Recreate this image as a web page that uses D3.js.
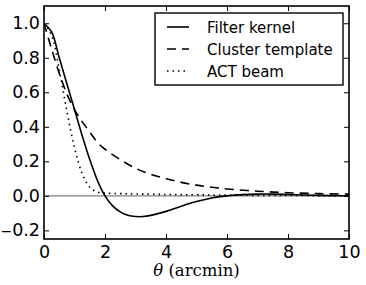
<!DOCTYPE html>
<html>
<head>
<meta charset="utf-8">
<script src="https://cdn.jsdelivr.net/npm/d3@7"></script>
<style>
  body { margin: 0; background: #fff; }
  text { font-family: "DejaVu Sans", sans-serif; }
</style>
</head>
<body>
<div id="chart"></div>
<script>
// values
var filterX = [0, 0.25, 0.5, 0.75, 1.0, 1.25, 1.5, 1.75, 2.0, 2.25, 2.5, 2.75, 3.0, 3.25, 3.5, 4.0, 4.5, 5.0, 5.5, 6.0, 6.5, 7.0, 7.5, 8.0, 8.5, 9.0, 9.5, 10];
var filterY = [1.0, 0.95, 0.8, 0.65, 0.5, 0.35, 0.21, 0.09, 0.0, -0.058, -0.093, -0.113, -0.12, -0.12, -0.113, -0.09, -0.06, -0.033, -0.012, 0.0, 0.007, 0.01, 0.01, 0.008, 0.005, 0.003, 0.001, 0];

var clusterX = [0, 0.25, 0.5, 0.75, 1.0, 1.25, 1.5, 1.75, 2.0, 2.5, 3.0, 3.5, 4.0, 4.5, 5.0, 5.5, 6.0, 7.0, 8.0, 9.0, 10];
var clusterY = [1.0, 0.85, 0.71, 0.59, 0.5, 0.43, 0.37, 0.31, 0.27, 0.21, 0.16, 0.125, 0.1, 0.078, 0.062, 0.05, 0.04, 0.027, 0.018, 0.013, 0.01];

var beamX = [0, 0.25, 0.5, 0.75, 1.0, 1.25, 1.5, 1.75, 2.0, 2.5, 3.0, 4.0, 5.0, 6.0, 8.0, 10];
var beamY = [1.0, 0.93, 0.73, 0.49, 0.28, 0.13, 0.05, 0.022, 0.016, 0.013, 0.011, 0.008, 0.006, 0.004, 0.002, 0.001];

var xTicks = [0, 2, 4, 6, 8, 10];
var yTicks = [-0.2, 0.0, 0.2, 0.4, 0.6, 0.8, 1.0];
var legendLabels = ["Filter kernel", "Cluster template", "ACT beam"];

var width = 366, height = 285;
var margin = {left: 44, right: 17, top: 6, bottom: 46};

var svg = d3.select("#chart").append("svg")
  .attr("width", width).attr("height", height);

var x = d3.scaleLinear().domain([0, 10]).range([margin.left, width - margin.right]);
var y = d3.scaleLinear().domain([-0.25, 1.1]).range([height - margin.bottom, margin.top]);

// zero line
svg.append("line")
  .attr("x1", x(0)).attr("x2", x(10))
  .attr("y1", y(0)).attr("y2", y(0))
  .attr("stroke", "#808080").attr("stroke-width", 1.2);

var line = d3.line()
  .x(function(d) { return x(d[0]); })
  .y(function(d) { return y(d[1]); })
  .curve(d3.curveCatmullRom.alpha(0.5));

var series = [
  {pts: d3.zip(filterX, filterY), dash: null},
  {pts: d3.zip(clusterX, clusterY), dash: "9,6"},
  {pts: d3.zip(beamX, beamY), dash: "1.5,4"}
];

svg.append("clipPath").attr("id", "clip").append("rect")
  .attr("x", x(0)).attr("y", y(1.1))
  .attr("width", x(10) - x(0)).attr("height", y(-0.25) - y(1.1));

svg.append("g").attr("clip-path", "url(#clip)")
  .selectAll("path")
  .data(series)
  .enter().append("path")
  .attr("d", function(d) { return line(d.pts); })
  .attr("fill", "none")
  .attr("stroke", "#000")
  .attr("stroke-width", 1.6)
  .attr("stroke-dasharray", function(d) { return d.dash; });

// axes, ticks inward on all four sides
var fs = 17.5;
svg.append("g").attr("transform", "translate(0," + y(-0.25) + ")")
  .call(d3.axisBottom(x).tickValues(xTicks).tickSizeInner(-5).tickSizeOuter(0).tickPadding(7).tickFormat(d3.format("d")));
svg.append("g").attr("transform", "translate(0," + y(1.1) + ")")
  .call(d3.axisTop(x).tickValues(xTicks).tickSizeInner(-5).tickSizeOuter(0).tickFormat(""));
var yAxis = svg.append("g").attr("transform", "translate(" + x(0) + ",0)")
  .call(d3.axisLeft(y).tickValues(yTicks).tickSizeInner(-5).tickSizeOuter(0).tickPadding(4)
    .tickFormat(function(d) { return d3.format(".1f")(Math.abs(d)); }));
svg.append("g").attr("transform", "translate(" + x(10) + ",0)")
  .call(d3.axisRight(y).tickValues(yTicks).tickSizeInner(-5).tickSizeOuter(0).tickFormat(""));

svg.selectAll(".domain").remove();
svg.selectAll(".tick line").attr("stroke", "#000").attr("stroke-width", 1);
svg.selectAll(".tick text").attr("font-size", fs).attr("font-family", "DejaVu Sans").attr("fill", "#000");

// minus sign for negative y labels, a bit smaller so it fits the edge
yAxis.selectAll(".tick text")
  .filter(function(d) { return d < 0; })
  .each(function(d) {
    var t = d3.select(this), s = t.text();
    t.text("");
    t.append("tspan").attr("font-size", 14).text("\u2212");
    t.append("tspan").text(s);
  });

svg.append("rect")
  .attr("x", x(0)).attr("y", y(1.1))
  .attr("width", x(10) - x(0)).attr("height", y(-0.25) - y(1.1))
  .attr("fill", "none").attr("stroke", "#000").attr("stroke-width", 1.6);

// x label
var xl = svg.append("text")
  .attr("x", (x(0) + x(10)) / 2).attr("y", 276)
  .attr("text-anchor", "middle")
  .attr("font-size", 16.5)
  .style("font-family", "'DejaVu Serif', serif");
xl.append("tspan").attr("font-style", "italic").text("\u03b8");
xl.append("tspan").text(" (arcmin)");

// legend
var lg = svg.append("g");
lg.append("rect")
  .attr("x", 155).attr("y", 13).attr("width", 188).attr("height", 72)
  .attr("fill", "#fff").attr("stroke", "#000").attr("stroke-width", 1.4);
var items = lg.selectAll("g.item")
  .data(legendLabels)
  .enter().append("g")
  .attr("transform", function(d, i) { return "translate(0," + (27 + i * 22) + ")"; });
items.append("line")
  .attr("x1", 167).attr("x2", 189)
  .attr("stroke", "#000").attr("stroke-width", 1.6)
  .attr("stroke-dasharray", function(d, i) { return series[i].dash; });
items.append("text")
  .attr("x", 207).attr("y", 5.5)
  .attr("font-size", 15)
  .text(function(d) { return d; });
</script>
</body>
</html>
